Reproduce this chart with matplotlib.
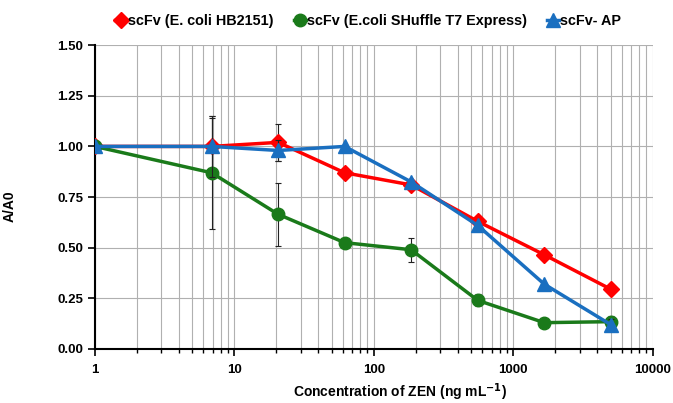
import numpy as np
import matplotlib.pyplot as plt
from matplotlib.ticker import LogLocator, FixedLocator, NullFormatter

plt.rcParams['font.family'] = ['Liberation Sans', 'DejaVu Sans']

# Concentrations (3-fold dilution series)
conc = [1, 6.86, 20.6, 61.7, 185, 556, 1667, 5000]

hb2151 = [1.00, 1.00, 1.02, 0.87, 0.81, 0.63, 0.465, 0.295]
hb2151_err = [0.0, 0.14, 0.09, 0.0, 0.0, 0.0, 0.0, 0.0]

shuffle = [1.00, 0.87, 0.665, 0.525, 0.49, 0.24, 0.13, 0.135]
shuffle_err = [0.0, 0.28, 0.155, 0.0, 0.06, 0.03, 0.0, 0.03]

ap = [1.00, 1.00, 0.98, 1.00, 0.825, 0.61, 0.32, 0.12]
ap_err = [0.0, 0.15, 0.05, 0.0, 0.0, 0.0, 0.0, 0.03]

fig = plt.figure(figsize=(6.73, 4.03), dpi=100)
ax = fig.add_axes([0.141, 0.134, 0.829, 0.754])

ebkw = dict(ecolor='#222222', elinewidth=0.8, capsize=2, capthick=0.8)
e1 = ax.errorbar(conc, hb2151, yerr=hb2151_err, color='#ff0000', marker='D', ms=8,
                 lw=2.5, zorder=3, **ebkw)
e2 = ax.errorbar(conc, shuffle, yerr=shuffle_err, color='#1a7a1a', marker='o', ms=9,
                 lw=2.5, zorder=3, **ebkw)
e3 = ax.errorbar(conc, ap, yerr=ap_err, color='#1a6fc0', marker='^', ms=10,
                 lw=2.5, zorder=4, **ebkw)

ax.set_xscale('log')
ax.set_xlim(1, 10000)
ax.set_ylim(0, 1.5)
ax.set_yticks([0, 0.25, 0.5, 0.75, 1.0, 1.25, 1.5])
ax.set_yticklabels(['0.00', '0.25', '0.50', '0.75', '1.00', '1.25', '1.50'])
ax.xaxis.set_major_locator(FixedLocator([1, 10, 100, 1000, 10000]))
ax.set_xticklabels(['1', '10', '100', '1000', '10000'])
ax.xaxis.set_minor_locator(LogLocator(base=10, subs=np.arange(2, 10)))
ax.xaxis.set_minor_formatter(NullFormatter())

ax.grid(True, which='both', axis='x', color='#b0b0b0', lw=0.8)
ax.grid(True, which='major', axis='y', color='#b0b0b0', lw=0.8)
ax.set_axisbelow(True)

for s in ['top', 'right']:
    ax.spines[s].set_visible(False)
for s in ['left', 'bottom']:
    ax.spines[s].set_linewidth(1.5)

ax.tick_params(axis='both', which='major', labelsize=9.5, length=5, width=1.2)
ax.tick_params(axis='x', which='minor', length=3, width=1)
ax.tick_params(axis='x', which='major', pad=6)
for lab in ax.get_xticklabels() + ax.get_yticklabels():
    lab.set_fontweight('bold')

ax.set_ylabel('A/A0', fontsize=10, fontweight='bold')
ax.yaxis.set_label_coords(-0.14, 0.47)
ax.set_xlabel('Concentration of ZEN (ng mL$^{\\mathbf{-1}}$)', fontsize=10,
              fontweight='bold')
ax.xaxis.set_label_coords(0.547, -0.105)

# legend uses just the line+marker part of each errorbar container
ax.legend([e1[0], e2[0], e3[0]],
          ['scFv (E. coli HB2151)', 'scFv (E.coli SHuffle T7 Express)', 'scFv- AP'],
          loc='lower center', bbox_to_anchor=(0.49, 1.015),
          ncol=3, frameon=False, handlelength=0.8, handletextpad=0.1,
          columnspacing=1.4, prop={'weight': 'bold', 'size': 10.4})

fig.savefig('out.png', dpi=100)
